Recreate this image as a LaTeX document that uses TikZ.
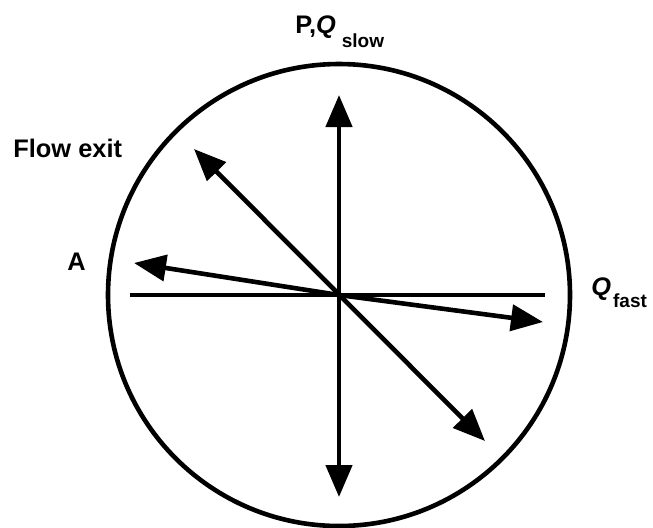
\documentclass[tikz,border=0pt]{standalone}
\usepackage{fontspec}
\setmainfont{Liberation Sans}
\usetikzlibrary{arrows.meta}
\tikzstyle{rim} = [line width=2.3pt]
\tikzstyle{axis} = [line width=2pt]
\tikzstyle{vec} = [line width=2.3pt, -{Triangle[length=16pt, width=13pt]}]
\tikzstyle{dvec} = [line width=2.3pt, {Triangle[length=16pt, width=13pt]}-{Triangle[length=16pt, width=13pt]}]
\tikzstyle{lbl} = [inner sep=0pt, anchor=base west, font=\bfseries\fontsize{12.7}{15}\selectfont]
\tikzstyle{sub} = [font=\bfseries\fontsize{9.5}{11}\selectfont]

\begin{document}
\begin{tikzpicture}[x=0.5pt, y=-0.5pt]
\useasboundingbox (0,0) rectangle (653,527);

% centre and arrow ends
\coordinate (O) at (339,295);
\coordinate (top) at (339,95);
\coordinate (bot) at (339,497);
\coordinate (ul) at (194,149);
\coordinate (lr) at (485,441);
\coordinate (a) at (134,263);
\coordinate (qf) at (543,322);
\coordinate (left) at (130,295);
\coordinate (right) at (545,295);

\draw [rim] (O) circle (231);
\draw [axis] (left) -- (right);
\draw [dvec] (bot) -- (top);
\draw [dvec] (lr) -- (ul);
\draw [vec] (O) -- (a);
\draw [vec] (O) -- (qf);

% labels
\node (pq) [lbl] at (295,33) {P,\textit{Q}\hspace{3pt}\raisebox{-7pt}{\fontsize{9.5}{11}\selectfont slow}};
\node (exit) [lbl] at (13,157) {Flow exit};
\node (alab) [lbl] at (67,270) {A};
\node (qfast) [lbl] at (591,295) {\textit{Q}\hspace{1pt}\raisebox{-6pt}{\fontsize{9.5}{11}\selectfont fast}};

\end{tikzpicture}
\end{document}
